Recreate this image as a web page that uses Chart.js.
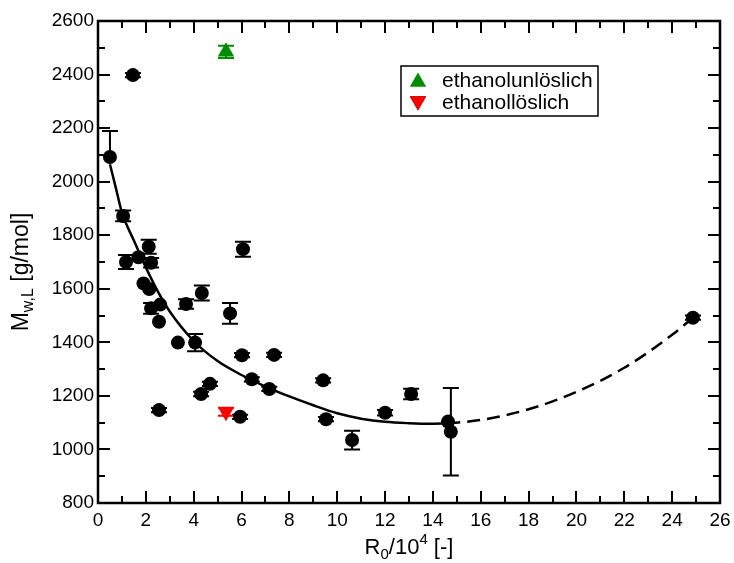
<!DOCTYPE html>
<html>
<head>
<meta charset="utf-8">
<script src="https://cdn.jsdelivr.net/npm/chart.js@4.4.1/dist/chart.umd.min.js"></script>
<style>
  body { margin: 0; background: #fff; }
  canvas { display: block; }
</style>
</head>
<body>
<canvas id="chart" width="734" height="563"></canvas>
<script>
// measured samples: R0 in units of 10^4, Mw,L in g/mol
var rValues = [0.50, 1.05, 1.17, 1.69, 2.12, 2.22, 1.90, 2.14, 2.22, 2.60, 2.55, 1.46,
  3.68, 4.34, 5.52, 6.06, 3.34, 4.06, 6.02, 7.36, 6.43, 7.16, 4.68, 4.31, 5.94, 2.55,
  9.41, 9.53, 10.62, 12.0, 13.09, 14.63, 14.75, 24.87];
var mwValues = [2092, 1872, 1700, 1718, 1757, 1697, 1620, 1599, 1527, 1541, 1477, 2398,
  1543, 1584, 1508, 1748, 1399, 1399, 1352, 1353, 1262, 1226, 1245, 1207, 1122, 1147,
  1258, 1113, 1035, 1137, 1207, 1104, 1066, 1492];
var mwErrUp = [97, 20, 26, 0, 26, 18, 0, 0, 20, 0, 0, 8,
  18, 28, 39, 28, 0, 32, 8, 8, 8, 8, 8, 8, 8, 8,
  8, 8, 35, 10, 20, 0, 163, 8];
var mwErrDown = [0, 20, 26, 0, 26, 18, 0, 0, 20, 0, 0, 8,
  18, 28, 39, 28, 0, 32, 8, 8, 8, 8, 8, 8, 8, 8,
  8, 8, 35, 10, 20, 0, 163, 8];

var insolubleR = [5.35];
var insolubleMw = [2485];
var insolubleErr = [23];
var solubleR = [5.35];
var solubleMw = [1141];
var solubleErr = [15];

// fitted trend, solid inside the measured range, dashed beyond it
var fitR = [0.5, 0.75, 1.0, 1.5, 2.0, 2.5, 3.0, 4.0, 5.0, 6.0, 7.0, 8.0, 9.0, 10.0, 11.0, 12.0, 13.0, 14.0, 14.6];
var fitMw = [2065, 1975, 1885, 1780, 1680, 1590, 1515, 1405, 1330, 1278, 1235, 1198, 1165, 1135, 1115, 1103, 1098, 1096, 1097];
var extR = [14.6, 16, 18, 20, 22, 24, 24.87];
var extMw = [1097, 1110, 1150, 1215, 1305, 1428, 1492];

var xTickStep = 2;
var yTickStep = 200;

var FONT = "'Liberation Sans', Arial, sans-serif";
var GREEN = "rgb(0,140,0)";
var RED = "rgb(255,0,0)";

function pts(xs, ys) {
  return xs.map(function (x, i) { return { x: x, y: ys[i] }; });
}

var errorBars = {
  id: "errorBars",
  beforeDatasetsDraw: function (chart) {
    var ctx = chart.ctx;
    var yScale = chart.scales.y;
    ctx.save();
    chart.data.datasets.forEach(function (ds, di) {
      if (!ds.errUp) return;
      var meta = chart.getDatasetMeta(di);
      ctx.strokeStyle = ds.backgroundColor;
      ctx.lineWidth = 2;
      meta.data.forEach(function (el, i) {
        var v = ds.data[i].y;
        var up = ds.errUp[i], down = ds.errDown[i];
        if (!up && !down) return;
        var yTop = yScale.getPixelForValue(v + up);
        var yBot = yScale.getPixelForValue(v - down);
        var cap = 8;
        ctx.beginPath();
        ctx.moveTo(el.x, yTop);
        ctx.lineTo(el.x, yBot);
        if (up) { ctx.moveTo(el.x - cap, yTop); ctx.lineTo(el.x + cap, yTop); }
        if (down) { ctx.moveTo(el.x - cap, yBot); ctx.lineTo(el.x + cap, yBot); }
        ctx.stroke();
      });
    });
    ctx.restore();
  }
};

// text with sub/superscripts, parts = [{t, size, dy}]
function drawRich(ctx, parts, cx, baseline) {
  var total = 0;
  parts.forEach(function (p) {
    ctx.font = p.size + "px " + FONT;
    p.w = ctx.measureText(p.t).width;
    total += p.w;
  });
  var x = cx - total / 2;
  ctx.textAlign = "left";
  ctx.textBaseline = "alphabetic";
  parts.forEach(function (p) {
    ctx.font = p.size + "px " + FONT;
    ctx.fillText(p.t, x, baseline + (p.dy || 0));
    x += p.w;
  });
}

var frame = {
  id: "frame",
  afterDraw: function (chart) {
    var ctx = chart.ctx;
    var a = chart.chartArea;
    var xs = chart.scales.x, ys = chart.scales.y;
    ctx.save();
    ctx.strokeStyle = "#000";
    ctx.lineWidth = 2;
    ctx.beginPath();
    var v, px, len;
    for (v = xs.min; v <= xs.max + 1e-9; v += xTickStep / 2) {
      px = Math.round(xs.getPixelForValue(v));
      len = (Math.round(v / (xTickStep / 2)) % 2 === 0) ? 12 : 7;
      ctx.moveTo(px, a.bottom); ctx.lineTo(px, a.bottom - len);
      ctx.moveTo(px, a.top); ctx.lineTo(px, a.top + len);
    }
    for (v = ys.min; v <= ys.max + 1e-9; v += yTickStep / 2) {
      px = Math.round(ys.getPixelForValue(v));
      len = (Math.round((v - ys.min) / (yTickStep / 2)) % 2 === 0) ? 12 : 7;
      ctx.moveTo(a.left, px); ctx.lineTo(a.left + len, px);
      ctx.moveTo(a.right, px); ctx.lineTo(a.right - len, px);
    }
    ctx.stroke();
    ctx.lineWidth = 2.5;
    ctx.strokeRect(a.left, a.top, a.right - a.left, a.bottom - a.top);

    // axis titles
    ctx.fillStyle = "#000";
    drawRich(ctx, [
      { t: "R", size: 22 },
      { t: "0", size: 15, dy: 5 },
      { t: "/10", size: 22 },
      { t: "4", size: 15, dy: -10 },
      { t: " [-]", size: 22 }
    ], (a.left + a.right) / 2, 554);

    ctx.save();
    ctx.translate(28, 272);
    ctx.rotate(-Math.PI / 2);
    drawRich(ctx, [
      { t: "M", size: 23 },
      { t: "w,L", size: 16, dy: 5 },
      { t: " [g/mol]", size: 23 }
    ], 0, 0);
    ctx.restore();

    // legend
    var lx = 401, ly = 66, lw = 197, lh = 50;
    ctx.fillStyle = "#fff";
    ctx.fillRect(lx, ly, lw, lh);
    ctx.lineWidth = 1.5;
    ctx.strokeStyle = "#000";
    ctx.strokeRect(lx, ly, lw, lh);
    var entries = [
      { label: "ethanolunlöslich", color: GREEN, rot: 0, y: ly + 14 },
      { label: "ethanollöslich", color: RED, rot: 180, y: ly + 36 }
    ];
    entries.forEach(function (e) {
      Chart.helpers.drawPoint(ctx, {
        pointStyle: "triangle", radius: 9.5, rotation: e.rot, borderWidth: 0
      }, lx + 17, e.y + (e.rot ? -1 : 2));
      ctx.fillStyle = e.color;
      ctx.fill();
      ctx.fillStyle = "#000";
      ctx.font = "21px " + FONT;
      ctx.textAlign = "left";
      ctx.textBaseline = "middle";
      ctx.fillText(e.label, lx + 41, e.y + 1);
    });
    ctx.restore();
  }
};

function plainTick(value) {
  return String(value);
}

new Chart(document.getElementById("chart"), {
  type: "scatter",
  data: {
    datasets: [
      {
        data: pts(rValues, mwValues),
        errUp: mwErrUp,
        errDown: mwErrDown,
        backgroundColor: "#000",
        borderWidth: 0,
        pointRadius: 7,
        order: 0
      },
      {
        data: pts(insolubleR, insolubleMw),
        errUp: insolubleErr,
        errDown: insolubleErr,
        backgroundColor: GREEN,
        borderWidth: 0,
        pointStyle: "triangle",
        pointRadius: 9.5,
        order: 0
      },
      {
        data: pts(solubleR, solubleMw),
        errUp: solubleErr,
        errDown: solubleErr,
        backgroundColor: RED,
        borderWidth: 0,
        pointStyle: "triangle",
        rotation: 180,
        pointRadius: 9.5,
        order: 0
      },
      {
        type: "line",
        data: pts(fitR, fitMw),
        borderColor: "#000",
        borderWidth: 2.5,
        pointRadius: 0,
        cubicInterpolationMode: "monotone",
        fill: false,
        order: 1
      },
      {
        type: "line",
        data: pts(extR, extMw),
        borderColor: "#000",
        borderWidth: 2.5,
        borderDash: [13, 7],
        pointRadius: 0,
        cubicInterpolationMode: "monotone",
        fill: false,
        order: 1
      }
    ]
  },
  options: {
    responsive: false,
    animation: false,
    layout: { padding: { left: 0, top: 21, right: 14, bottom: 0 } },
    plugins: {
      legend: { display: false },
      tooltip: { enabled: false }
    },
    scales: {
      x: {
        type: "linear",
        min: 0,
        max: 26,
        grid: { display: false, drawTicks: false },
        border: { display: false },
        ticks: { stepSize: xTickStep, color: "#000", padding: 6, callback: plainTick, font: { family: FONT, size: 19 } },
        afterFit: function (scale) {
          scale.height = 60;
          scale.paddingLeft = 0;
          scale.paddingRight = 0;
        }
      },
      y: {
        type: "linear",
        min: 800,
        max: 2600,
        grid: { display: false, drawTicks: false },
        border: { display: false },
        ticks: { stepSize: yTickStep, color: "#000", padding: 4, callback: plainTick, font: { family: FONT, size: 19 } },
        afterFit: function (scale) {
          scale.width = 98;
          scale.paddingTop = 0;
          scale.paddingBottom = 0;
        }
      }
    }
  },
  plugins: [errorBars, frame]
});
</script>
</body>
</html>
